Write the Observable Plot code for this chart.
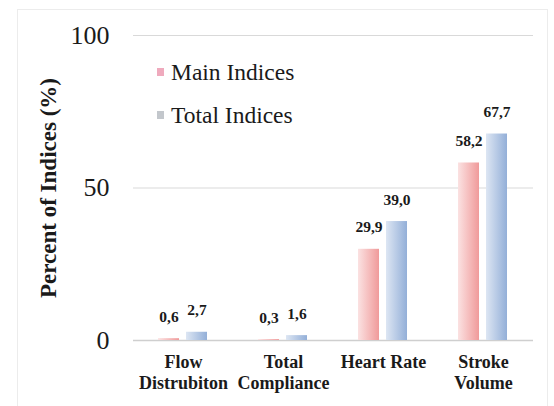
<!DOCTYPE html>
<html>
<head>
<meta charset="utf-8">
<script src="https://cdn.jsdelivr.net/npm/d3@7"></script>
<script src="https://cdn.jsdelivr.net/npm/@observablehq/plot@0.6"></script>
<style>
  html, body { margin: 0; padding: 0; background: #fff; }
  #wrap { position: relative; width: 554px; height: 406px; overflow: hidden; }
  #frame { position: absolute; left: 17px; top: 9px; width: 529px; height: 420px; border: 1px solid #ececec; pointer-events: none; }
  #legend { position: absolute; left: 157px; top: 56px; font-family: "Liberation Serif", "Times New Roman", serif; font-size: 23.5px; color: #1a1a1a; }
  .row { display: flex; align-items: center; height: 32px; margin-bottom: 11px; }
  .sw { width: 7px; height: 8px; margin-right: 7px; }
</style>
</head>
<body>
<div id="wrap">
  <div id="chart"></div>
  <div id="frame"></div>
  <div id="legend"></div>
</div>
<script>
const categories = ["Flow\nDistrubiton", "Total\nCompliance", "Heart Rate", "Stroke\nVolume"];
const series = ["Main Indices", "Total Indices"];
const mainValues = [0.6, 0.3, 29.9, 58.2];
const totalValues = [2.7, 1.6, 39.0, 67.7];
const yTicks = [0, 50, 100];
const swatchColors = ["#efaabd", "#c3c7cc"];

const data = [];
categories.forEach((c, i) => {
  data.push({category: c, series: series[0], value: mainValues[i]});
  data.push({category: c, series: series[1], value: totalValues[i]});
});
const fmt = v => d3.format(".1f")(v).replace(".", ",");
const serif = "'Liberation Serif', 'Times New Roman', serif";

const chart = Plot.plot({
  width: 554,
  height: 406,
  marginLeft: 133,
  marginRight: 21,
  marginTop: 35,
  marginBottom: 66,
  style: {fontFamily: serif, background: "transparent", color: "#1a1a1a"},
  fx: {domain: categories, padding: 0, label: null},
  x: {domain: series, paddingInner: 0.245, paddingOuter: 0.877, axis: null},
  y: {domain: [0, 100], label: null},
  color: {domain: series, range: ["url(#gMain)", "url(#gTotal)"]},
  marks: [
    Plot.gridY([50, 100], {stroke: "#d9d9d9", strokeOpacity: 1, strokeWidth: 1.2}),
    Plot.ruleY([0], {stroke: "#cfcfcf", strokeWidth: 1.5}),
    Plot.barY(data, {fx: "category", x: "series", y: "value", fill: "series"}),
    Plot.text(data, {fx: "category", x: "series", y: "value", text: d => fmt(d.value), dy: -22,
      fontSize: 15.5, fontWeight: "bold", fill: "#1a1a1a"}),
    Plot.axisY({ticks: yTicks, tickSize: 0, tickPadding: 24, fontSize: 26, tickFormat: d => String(d),
      label: "Percent of Indices (%)", labelAnchor: "center", labelArrow: "none", labelOffset: 94}),
    Plot.axisFx({anchor: "bottom", tickSize: 0, tickPadding: 12, fontSize: 18, fontWeight: "bold",
      lineHeight: 1.2, label: null})
  ]
});

const svg = d3.select(chart);
const defs = svg.insert("defs", ":first-child");
const gm = defs.append("linearGradient").attr("id", "gMain").attr("x1", "0").attr("x2", "1").attr("y1", "0").attr("y2", "0");
gm.append("stop").attr("offset", "0%").attr("stop-color", "#fbe2e2");
gm.append("stop").attr("offset", "100%").attr("stop-color", "#f09a9a");
const gt = defs.append("linearGradient").attr("id", "gTotal").attr("x1", "0").attr("x2", "1").attr("y1", "0").attr("y2", "0");
gt.append("stop").attr("offset", "0%").attr("stop-color", "#dde6f3");
gt.append("stop").attr("offset", "100%").attr("stop-color", "#93afd8");

// y-axis label styling
svg.selectAll("[aria-label='y-axis label'] text").attr("font-size", 23).attr("font-weight", "bold");

document.getElementById("chart").appendChild(chart);

const legend = d3.select("#legend");
series.forEach((s, i) => {
  const row = legend.append("div").attr("class", "row");
  row.append("div").attr("class", "sw").style("background", swatchColors[i]);
  row.append("span").text(s);
});
</script>
</body>
</html>
